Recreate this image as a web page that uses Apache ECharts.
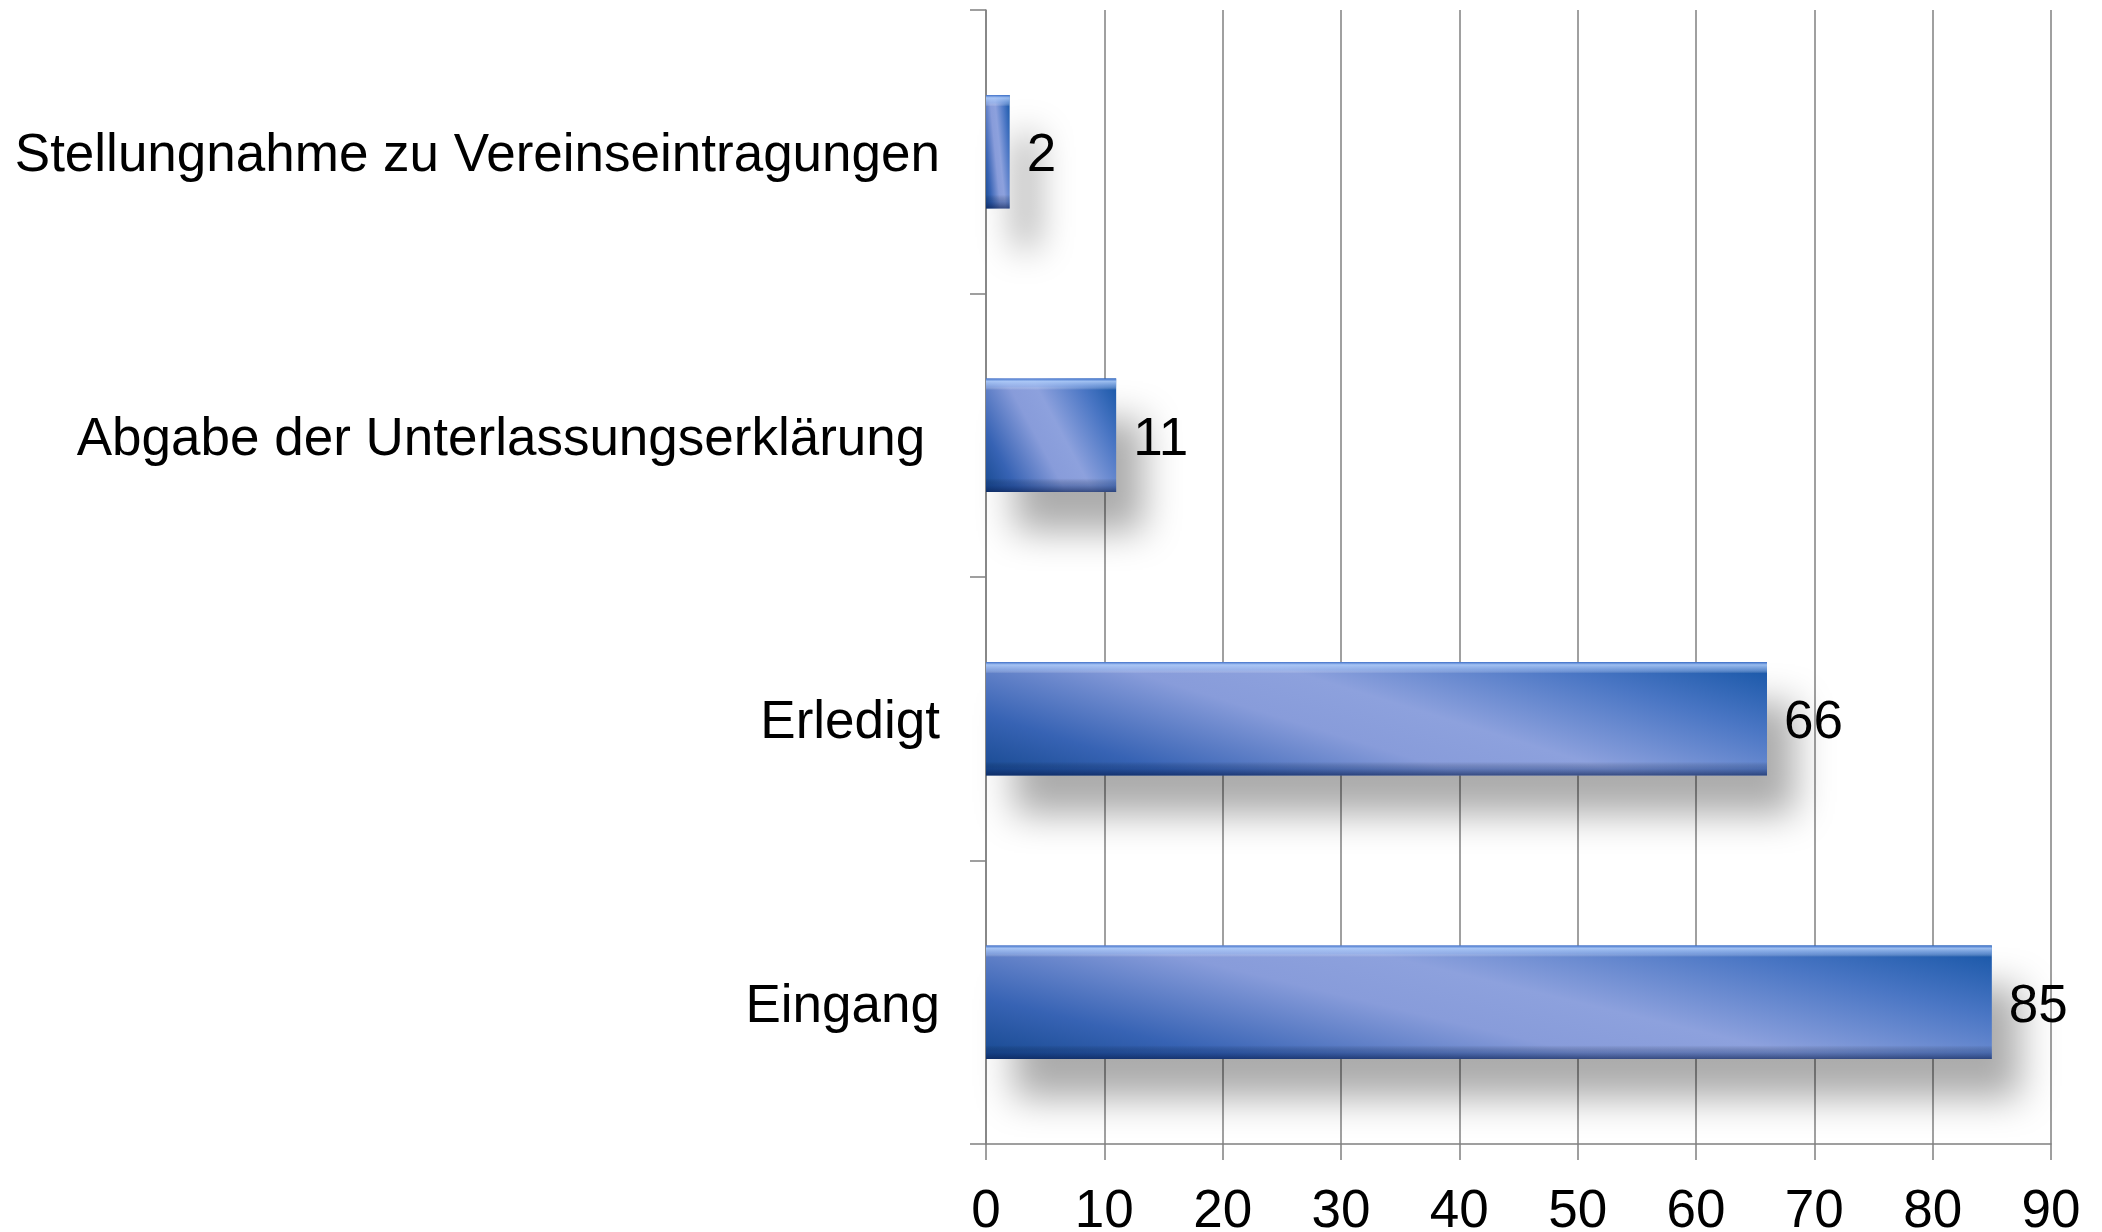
<!DOCTYPE html>
<html>
<head>
<meta charset="utf-8">
<script src="https://cdn.jsdelivr.net/npm/echarts@6/dist/echarts.min.js"></script>
<style>
html,body{margin:0;padding:0;background:#fff;}
#chart{width:2102px;height:1232px;}
</style>
</head>
<body>
<div id="chart"></div>
<script>
// Categories listed bottom to top (category axis starts at the bottom)
const categories = ["Eingang", "Erledigt", "Abgabe der Unterlassungserklärung ", "Stellungnahme zu Vereinseintragungen"];
const values = [85, 66, 11, 2];
const xTicks = [0, 10, 20, 30, 40, 50, 60, 70, 80, 90];

const chart = echarts.init(document.getElementById('chart'), null, {renderer: 'canvas'});
const FONT = '"Liberation Sans", Arial, sans-serif';

const barStops = [
  {offset: 0, color: '#174990'},
  {offset: 0.17, color: '#3763b4'},
  {offset: 0.42, color: '#889cda'},
  {offset: 0.56, color: '#8da1dd'},
  {offset: 0.8, color: '#4a76c4'},
  {offset: 1, color: '#1555a6'}
];
// Diagonal sheen: band runs from upper-left toward lower-right, shifting s*width over the bar height
function sheen(w, h) {
  const s = 0.47;
  const gx = h, gy = -s * w;
  const g2 = gx * gx + gy * gy;
  const half = (1 + s) * w * h / 2;
  const cx = w / 2, cy = h / 2;
  const k = half / g2;
  return new echarts.graphic.LinearGradient(
    (cx - gx * k) / w, (cy - gy * k) / h,
    (cx + gx * k) / w, (cy + gy * k) / h, barStops);
}
const bevel = new echarts.graphic.LinearGradient(0, 0, 0, 1, [
  {offset: 0, color: 'rgba(60,110,200,0.9)'},
  {offset: 0.025, color: 'rgba(175,205,250,0.85)'},
  {offset: 0.07, color: 'rgba(165,195,245,0.5)'},
  {offset: 0.1, color: 'rgba(255,255,255,0)'},
  {offset: 0.88, color: 'rgba(0,0,0,0)'},
  {offset: 0.94, color: 'rgba(10,40,100,0.3)'},
  {offset: 1, color: 'rgba(10,30,80,0.65)'}
]);

const txt = {color: '#000', fontFamily: FONT, fontSize: 53, padding: [10, 0, 0, 0]};

const baseOption = {
  animation: false,
  backgroundColor: '#ffffff',
  grid: {left: 986, right: 51, top: 10, bottom: 88, containLabel: false, outerBoundsMode: 'none'},
  xAxis: {
    type: 'value',
    min: xTicks[0],
    max: xTicks[xTicks.length - 1],
    interval: 10,
    axisLine: {show: true, lineStyle: {color: '#808080', width: 1.5}},
    axisTick: {show: true, length: 16, lineStyle: {color: '#808080', width: 1.5}},
    axisLabel: {color: '#000', fontFamily: FONT, fontSize: 53, margin: 42},
    splitLine: {show: true, lineStyle: {color: '#808080', width: 1.5}}
  },
  yAxis: {
    type: 'category',
    data: categories,
    axisLine: {show: true, lineStyle: {color: '#808080', width: 1.5}},
    axisTick: {show: true, length: 16, lineStyle: {color: '#808080', width: 1.5}},
    axisLabel: {
      margin: 46,
      formatter: function (v) { return '{t|' + v + '}'; },
      rich: {t: txt}
    },
    splitLine: {show: false}
  },
  series: [{
    type: 'bar',
    data: values,
    barCategoryGap: '60%',
    barGap: '-100%',
    itemStyle: {
      color: '#4a76c4',
      shadowColor: 'rgba(0,0,0,0.33)',
      shadowBlur: 35,
      shadowOffsetX: 28,
      shadowOffsetY: 40
    },
    label: {
      show: true,
      position: 'right',
      distance: 17,
      formatter: function (p) { return '{t|' + p.value + '}'; },
      rich: {t: txt}
    }
  }, {
    type: 'bar',
    data: values,
    barCategoryGap: '60%',
    barGap: '-100%',
    silent: true,
    itemStyle: {color: bevel},
    label: {show: false}
  }]
};
chart.setOption(baseOption);

// per-bar diagonal gradient, sized from each bar's pixel extent on the axes
const band = chart.getModel().getComponent('yAxis', 0).axis.getBandWidth();
const barH = band * 0.4;
const x0 = chart.convertToPixel({gridIndex: 0}, [0, 0])[0];
const styled = values.map(function (v) {
  const w = Math.max(1, chart.convertToPixel({gridIndex: 0}, [v, 0])[0] - x0);
  return {value: v, itemStyle: {color: sheen(w, barH)}};
});
chart.setOption({series: [{data: styled}, {}]});
</script>
</body>
</html>
